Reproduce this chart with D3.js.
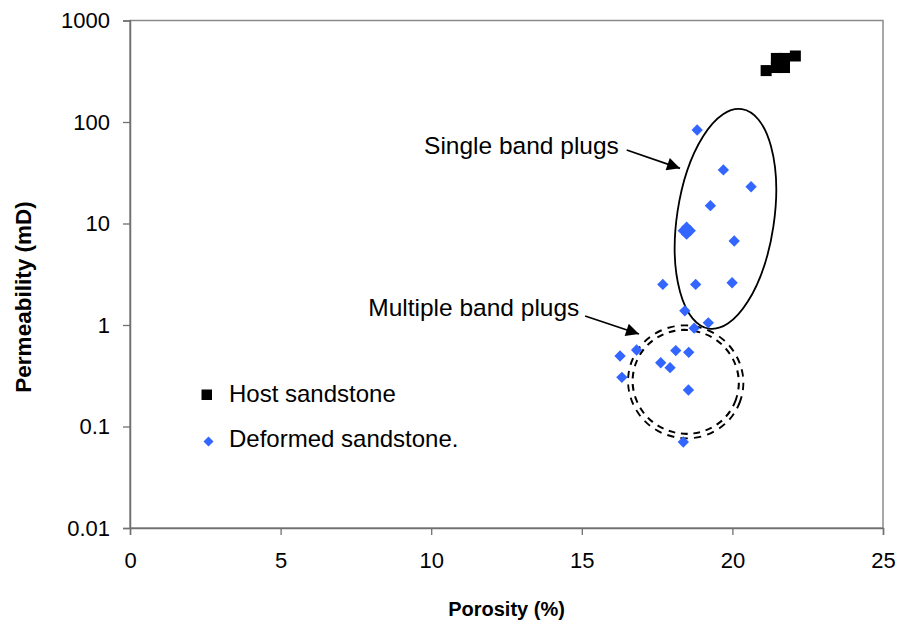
<!DOCTYPE html>
<html>
<head>
<meta charset="utf-8">
<script src="https://cdn.jsdelivr.net/npm/d3@7"></script>
<style>
  body { margin: 0; background: #fff; }
  svg text { font-family: "Liberation Sans", Arial, sans-serif; fill: #000; }
</style>
</head>
<body>
<div id="chart"></div>
<script>
// porosity (%) / permeability (mD)
var hostPorosity = [21.12, 21.46, 21.73, 21.46, 21.73, 22.09]
var hostPerm     = [321,   423,   423,   344,   344,   447]

var defPorosity = [18.83, 19.70, 20.62, 19.27,
                   18.37, 18.60, 18.48, 18.48,
                   20.06, 17.69, 18.78, 19.99, 18.42, 19.20, 18.73,
                   16.27, 16.82, 18.12, 18.55, 17.62, 17.93, 16.33, 18.54, 18.37]
var defPerm     = [83.4, 33.7, 23.0, 15.0,
                   8.5, 8.5, 9.2, 7.85,
                   6.73, 2.51, 2.51, 2.61, 1.38, 1.05, 0.93,
                   0.495, 0.567, 0.56, 0.538, 0.425, 0.38, 0.305, 0.229, 0.0703]

var xTicks = [0, 5, 10, 15, 20, 25]
var yTicks = [0.01, 0.1, 1, 10, 100, 1000]
var yTickLabels = ["0.01", "0.1", "1", "10", "100", "1000"]

var legendLabels = ["Host sandstone", "Deformed sandstone."]

var width = 898, height = 627
var margin = {top: 20.5, right: 15, bottom: 99, left: 130}
var innerW = width - margin.left - margin.right,
    innerH = height - margin.top - margin.bottom

var svg = d3.select("#chart").append("svg")
    .attr("width", width)
    .attr("height", height)

var x = d3.scaleLinear().domain([0, 25]).range([0, innerW])
var y = d3.scaleLog().domain([0.01, 1000]).range([innerH, 0])

var g = svg.append("g")
    .attr("transform", "translate(" + margin.left + "," + margin.top + ")")

// frame
g.append("rect")
    .attr("width", innerW)
    .attr("height", innerH)
    .attr("fill", "none")
    .attr("stroke", "#8a8a8a")
    .attr("stroke-width", 1.5)

var xAxis = g.append("g")
    .attr("transform", "translate(0," + innerH + ")")
    .call(d3.axisBottom(x).tickValues(xTicks).tickSize(7).tickPadding(17).tickFormat(d3.format("d")))
var yAxis = g.append("g")
    .call(d3.axisLeft(y).tickValues(yTicks).tickSize(7).tickPadding(13)
      .tickFormat(function(d, i) { return yTickLabels[i] }))

;[xAxis, yAxis].forEach(function(a) {
  a.select(".domain").attr("stroke", "#707070").attr("stroke-width", 1.5)
  a.selectAll(".tick line").attr("stroke", "#707070").attr("stroke-width", 1.3)
  a.selectAll(".tick text")
    .style("font-family", "Liberation Sans, Arial, sans-serif")
    .style("font-size", "22px")
    .attr("fill", "#000")
})

// axis titles
svg.append("text")
    .attr("x", margin.left + innerW / 2)
    .attr("y", 616)
    .attr("text-anchor", "middle")
    .style("font-size", "20px")
    .style("font-weight", "bold")
    .text("Porosity (%)")

svg.append("text")
    .attr("transform", "translate(23,297) rotate(-90)")
    .attr("dy", "0.35em")
    .attr("text-anchor", "middle")
    .style("font-size", "22.5px")
    .style("font-weight", "bold")
    .text("Permeability (mD)")

// annotation ellipses
var single = {x: 19.77, y: 11.1}
g.append("ellipse")
    .attr("transform", "translate(" + x(single.x) + "," + y(single.y) + ") rotate(8.5)")
    .attr("rx", 48.5)
    .attr("ry", 111)
    .attr("fill", "none")
    .attr("stroke", "#000")
    .attr("stroke-width", 1.8)

var multi = {x: 18.45, y: 0.275}
var multiG = g.append("g")
    .attr("transform", "translate(" + x(multi.x) + "," + y(multi.y) + ") rotate(20)")
multiG.append("ellipse")
    .attr("rx", 55.5).attr("ry", 54)
    .attr("fill", "none")
    .attr("stroke", "#000")
    .attr("stroke-width", 6.5)
    .attr("stroke-dasharray", "7,6")
multiG.append("ellipse")
    .attr("rx", 55.5).attr("ry", 54)
    .attr("fill", "none")
    .attr("stroke", "#fff")
    .attr("stroke-width", 2.6)

// arrows + labels
svg.append("defs").append("marker")
    .attr("id", "arrow")
    .attr("viewBox", "0 0 10 10")
    .attr("refX", 10).attr("refY", 5)
    .attr("markerUnits", "userSpaceOnUse")
    .attr("markerWidth", 16).attr("markerHeight", 13)
    .attr("orient", "auto")
  .append("path")
    .attr("d", "M0,0L10,5L0,10z")
    .attr("fill", "#000")

var notes = [
  {text: "Single band plugs",   tx: 16.23, ty: 48.4, x1: 16.49, y1: 53,    x2: 18.26, y2: 35},
  {text: "Multiple band plugs", tx: 14.92, ty: 1.22, x1: 15.11, y1: 1.227, x2: 16.90, y2: 0.815}
]
notes.forEach(function(n) {
  g.append("line")
    .attr("x1", x(n.x1)).attr("y1", y(n.y1))
    .attr("x2", x(n.x2)).attr("y2", y(n.y2))
    .attr("stroke", "#000")
    .attr("stroke-width", 1.8)
    .attr("marker-end", "url(#arrow)")
  g.append("text")
    .attr("x", x(n.tx)).attr("y", y(n.ty))
    .attr("text-anchor", "end")
    .style("font-size", "24.5px")
    .text(n.text)
})

// points
var hostData = hostPorosity.map(function(p, i) { return {x: p, y: hostPerm[i]} })
var defData = defPorosity.map(function(p, i) { return {x: p, y: defPerm[i]} })

g.selectAll(".host")
    .data(hostData)
  .enter().append("rect")
    .attr("class", "host")
    .attr("x", function(d) { return x(d.x) - 5.5 })
    .attr("y", function(d) { return y(d.y) - 5.5 })
    .attr("width", 11).attr("height", 11)
    .attr("fill", "#000")

var diamond = d3.symbol().type(d3.symbolDiamond2).size(82)
g.selectAll(".def")
    .data(defData)
  .enter().append("path")
    .attr("class", "def")
    .attr("transform", function(d) { return "translate(" + x(d.x) + "," + y(d.y) + ")" })
    .attr("d", diamond)
    .attr("fill", "#3366ff")

// legend
var legend = svg.append("g")
legend.append("rect")
    .attr("x", 201.5).attr("y", 389.5)
    .attr("width", 10.5).attr("height", 10.5)
    .attr("fill", "#000")
legend.append("path")
    .attr("transform", "translate(208.5,441.5)")
    .attr("d", d3.symbol().type(d3.symbolDiamond2).size(64))
    .attr("fill", "#3366ff")
legend.selectAll("text")
    .data(legendLabels)
  .enter().append("text")
    .attr("x", 229)
    .attr("y", function(d, i) { return 401.5 + i * 45.5 })
    .style("font-size", "24px")
    .text(function(d) { return d })
</script>
</body>
</html>
